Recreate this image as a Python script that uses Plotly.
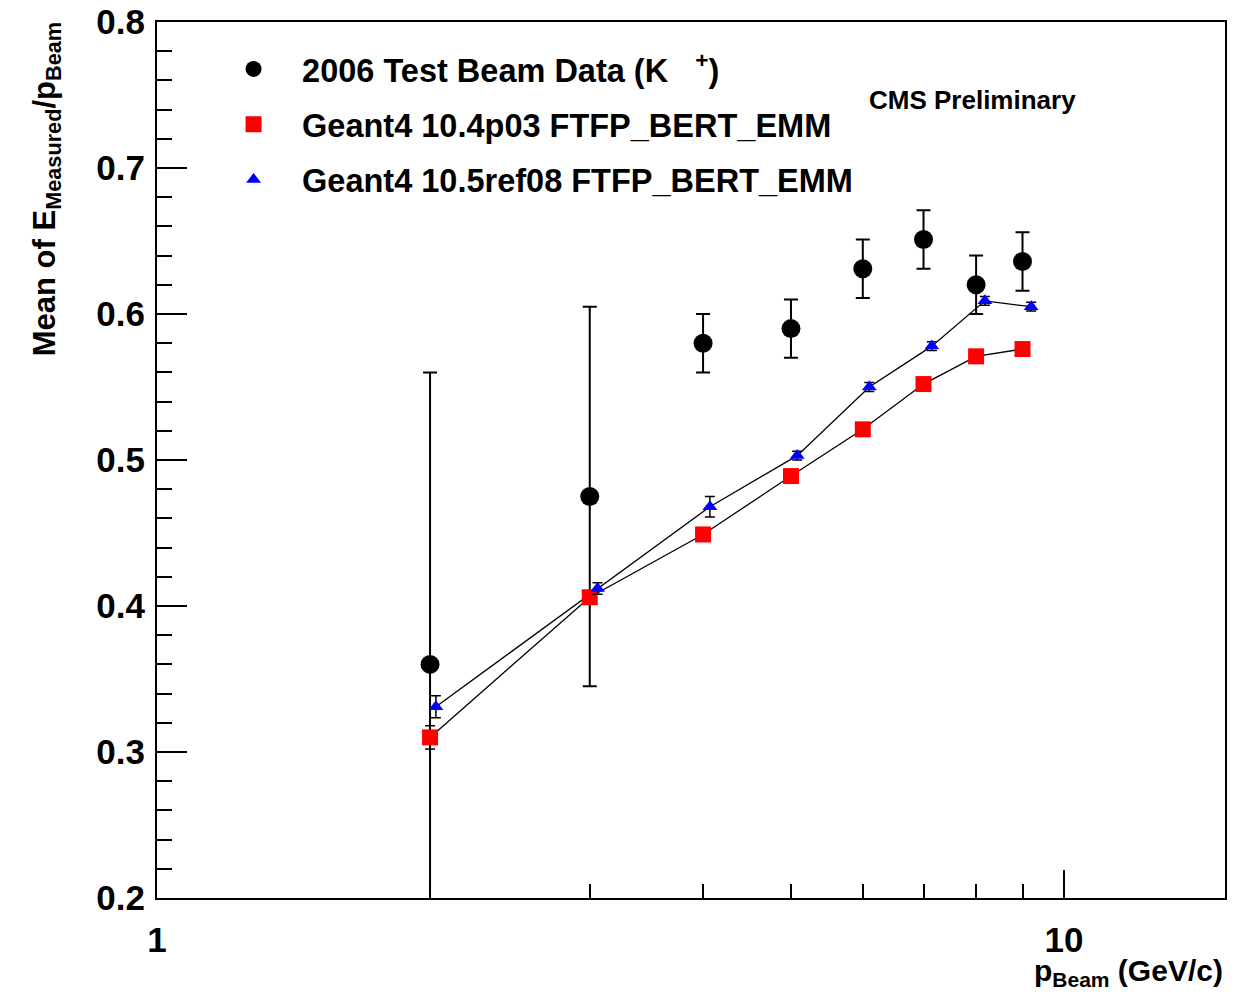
import plotly.graph_objects as go

# beam momenta (GeV/c)
p_beam = [2, 3, 4, 5, 6, 7, 8, 9]
p_beam_shifted = [2.03, 3.06, 4.07, 5.08, 6.1, 7.15, 8.18, 9.2]

# 2006 test beam data (K+)
data_mean = [0.36, 0.475, 0.58, 0.59, 0.631, 0.651, 0.62, 0.636]
data_err = [0.2, 0.13, 0.02, 0.02, 0.02, 0.02, 0.02, 0.02]

# Geant4 10.4p03
g4_104_mean = [0.31, 0.406, 0.449, 0.489, 0.521, 0.552, 0.571, 0.576]
g4_104_err = [0.008, 0.003, 0.003, 0.002, 0.002, 0.002, 0.002, 0.002]

# Geant4 10.5ref08
g4_105_mean = [0.331, 0.412, 0.468, 0.503, 0.55, 0.578, 0.609, 0.605]
g4_105_err = [0.0075, 0.004, 0.007, 0.003, 0.003, 0.003, 0.003, 0.003]

legend_names = ["2006 Test Beam Data (K   <sup>+</sup>)",
                "Geant4 10.4p03 FTFP_BERT_EMM",
                "Geant4 10.5ref08 FTFP_BERT_EMM"]

FONT = "Liberation Sans"

fig = go.Figure()

# connecting lines for the simulation curves
fig.add_trace(go.Scatter(x=p_beam, y=g4_104_mean, mode="lines",
                         line=dict(color="black", width=1.3),
                         showlegend=False, hoverinfo="skip"))
fig.add_trace(go.Scatter(x=p_beam_shifted, y=g4_105_mean, mode="lines",
                         line=dict(color="black", width=1.3),
                         showlegend=False, hoverinfo="skip"))

fig.add_trace(go.Scatter(x=p_beam, y=data_mean, mode="markers",
                         name=legend_names[0], legendgroup="a",
                         marker=dict(symbol="circle", size=19, color="black"),
                         error_y=dict(type="data", array=data_err, color="black",
                                      thickness=2, width=7)))
fig.add_trace(go.Scatter(x=p_beam, y=g4_104_mean, mode="markers",
                         name=legend_names[1], legendgroup="b",
                         marker=dict(symbol="square", size=16, color="red"),
                         error_y=dict(type="data", array=g4_104_err, color="black",
                                      thickness=1.5, width=5)))
fig.add_trace(go.Scatter(x=p_beam_shifted, y=g4_105_mean, mode="markers",
                         name=legend_names[2], legendgroup="c",
                         marker=dict(symbol="triangle-up", size=13, color="blue"),
                         error_y=dict(type="data", array=g4_105_err, color="black",
                                      thickness=1.5, width=5)))

fig.update_layout(
    width=1234, height=992,
    margin=dict(l=149, r=17, t=14, b=102, autoexpand=False),
    paper_bgcolor="white", plot_bgcolor="white",
    font=dict(family=FONT, color="black", weight="bold"),
    legend=dict(x=0.045, y=0.978, xanchor="left", yanchor="top",
                font=dict(size=32.5, family=FONT, weight="bold"),
                bgcolor="rgba(0,0,0,0)", traceorder="grouped",
                tracegroupgap=10, itemwidth=87, itemsizing="trace"),
    showlegend=True,
)

fig.update_xaxes(type="log", range=[0, 1.1775], automargin=False,
                 tickvals=[1, 10], ticktext=["1", "10"],
                 ticks="inside", ticklen=28, tickwidth=2, tickcolor="black",
                 ticklabelstandoff=10, ticklabeloverflow="allow",
                 minor=dict(tickvals=p_beam, ticks="inside", ticklen=14,
                            tickwidth=2, tickcolor="black", showgrid=False),
                 tickfont=dict(size=35, family=FONT, weight="bold"),
                 showline=True, linecolor="black", linewidth=2, mirror=True,
                 showgrid=False, zeroline=False)
fig.update_yaxes(range=[0.2, 0.8], dtick=0.1, tickformat=".1f", automargin=False,
                 ticks="inside", ticklen=30, tickwidth=2, tickcolor="black",
                 ticklabelstandoff=3, ticklabeloverflow="allow",
                 minor=dict(dtick=0.02, ticks="inside", ticklen=15,
                            tickwidth=2, tickcolor="black", showgrid=False),
                 tickfont=dict(size=35, family=FONT, weight="bold"),
                 showline=True, linecolor="black", linewidth=2, mirror=True,
                 showgrid=False, zeroline=False)

fig.add_annotation(text="Mean of E<sub>Measured</sub>/p<sub>Beam</sub>",
                   xref="paper", yref="paper", x=-0.103, y=1.002,
                   xanchor="center", yanchor="top", textangle=-90,
                   showarrow=False, font=dict(size=31, family=FONT, weight="bold"))
fig.add_annotation(text="p<sub>Beam</sub> (GeV/c)",
                   xref="paper", yref="paper", x=1.0, y=-0.062,
                   xanchor="right", yanchor="top",
                   showarrow=False, font=dict(size=30, family=FONT, weight="bold"))
fig.add_annotation(text="CMS Preliminary",
                   xref="paper", yref="paper", x=0.764, y=0.911,
                   xanchor="center", yanchor="middle",
                   showarrow=False, font=dict(size=26, family=FONT, weight="bold"))

fig.write_html("out.html")
